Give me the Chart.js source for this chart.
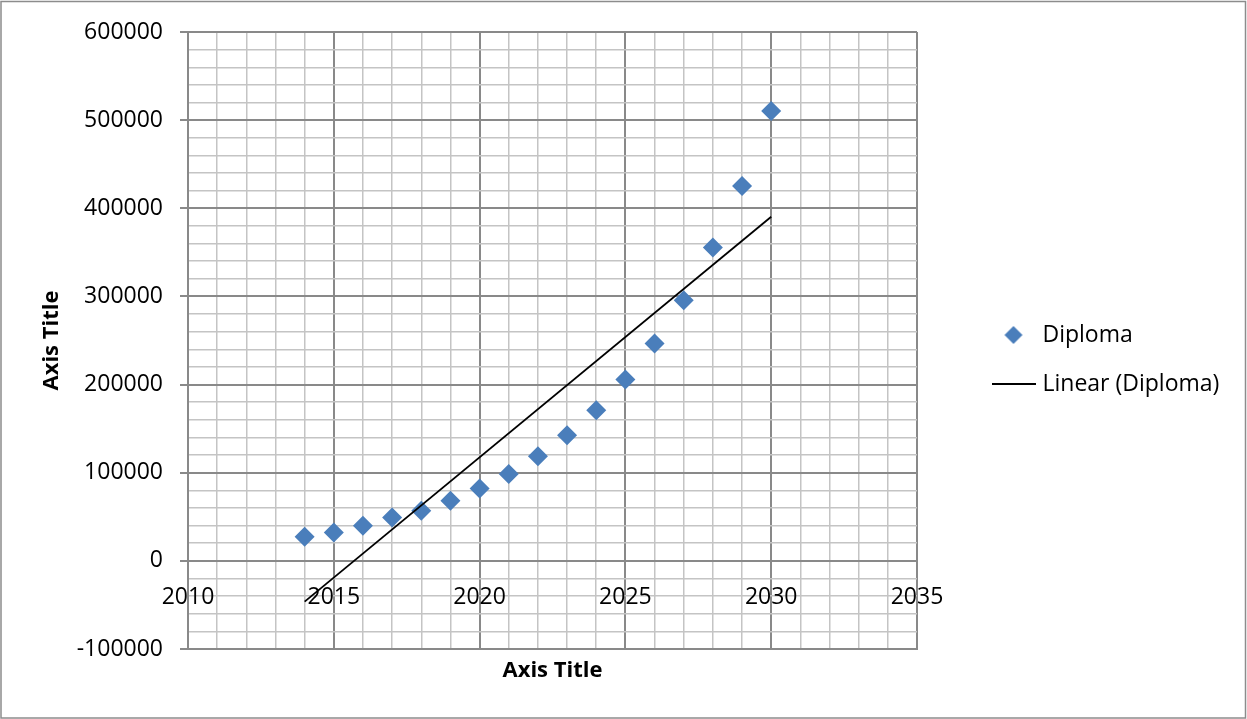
<!DOCTYPE html>
<html>
<head>
<meta charset="utf-8">
<title>Diploma</title>
<script src="https://cdn.jsdelivr.net/npm/chart.js@4.4.1/dist/chart.umd.min.js"></script>
<style>
  html, body { margin: 0; padding: 0; background: #ffffff; }
  #wrap { width: 1247px; height: 719px; }
</style>
</head>
<body>
<div id="wrap"><canvas id="chart" width="1247" height="719"></canvas></div>
<script>
// Diploma counts per year
const years = [2014, 2015, 2016, 2017, 2018, 2019, 2020, 2021, 2022, 2023, 2024, 2025, 2026, 2027, 2028, 2029, 2030];
const diplomas = [27300, 32300, 39800, 49300, 56800, 68100, 82200, 98400, 118800, 142600, 171000, 205800, 246600, 295700, 355400, 425300, 510300];

// Axis ranges and tick spacing
const xRange = [2010, 2035];
const xLabelStep = 5;
const yRange = [-100000, 600000];
const yLabelStep = 100000;
const yGridStep = 20000;

const seriesName = 'Diploma';
const trendName = 'Linear (Diploma)';
const axisTitleX = 'Axis Title';
const axisTitleY = 'Axis Title';

// Least-squares linear trend through the series
function linearFit(xs, ys) {
  const n = xs.length;
  const mx = xs.reduce((a, b) => a + b, 0) / n;
  const my = ys.reduce((a, b) => a + b, 0) / n;
  let sxy = 0, sxx = 0;
  for (let i = 0; i < n; i++) {
    sxy += (xs[i] - mx) * (ys[i] - my);
    sxx += (xs[i] - mx) * (xs[i] - mx);
  }
  const slope = sxy / sxx;
  return x => my + slope * (x - mx);
}
const trend = linearFit(years, diplomas);
const trendPoints = [years[0], years[years.length - 1]].map(x => ({ x, y: trend(x) }));
const points = years.map((x, i) => ({ x, y: diplomas[i] }));

const FONT = "'Open Sans', 'Liberation Sans', Arial, sans-serif";
const MAJOR = '#898989';
const MINOR = '#c4c4c4';
const BLUE = '#4A7EBB';

// Legend icons
function diamondIcon() {
  const c = document.createElement('canvas');
  c.width = 20; c.height = 20;
  const g = c.getContext('2d');
  g.fillStyle = BLUE;
  g.beginPath();
  g.moveTo(10, 1); g.lineTo(19, 10); g.lineTo(10, 19); g.lineTo(1, 10);
  g.closePath();
  g.fill();
  return c;
}
function lineIcon() {
  const c = document.createElement('canvas');
  c.width = 44; c.height = 4;
  const g = c.getContext('2d');
  g.fillStyle = '#000';
  g.fillRect(0, 1, 44, 2);
  return c;
}
const legendIcons = [diamondIcon(), lineIcon()];

const gridColor = ctx => (ctx.tick && ctx.tick.value % (ctx.scale.axis === 'x' ? xLabelStep : yLabelStep) === 0) ? MAJOR : MINOR;
const gridWidth = ctx => (ctx.tick && ctx.tick.value % (ctx.scale.axis === 'x' ? xLabelStep : yLabelStep) === 0) ? 2 : 1.5;

// Frame around the whole chart, plus legend placement to the right of the plot
const framePlugin = {
  id: 'frame',
  beforeDraw(chart) {
    const c = chart.ctx;
    c.save();
    c.fillStyle = '#ffffff';
    c.fillRect(0, 0, chart.width, chart.height);
    c.strokeStyle = '#8c8c8c';
    c.lineWidth = 1.5;
    c.strokeRect(1, 1.5, chart.width - 2.5, chart.height - 2.5);
    c.restore();
  },
  afterLayout(chart) {
    const lg = chart.legend;
    if (!lg) return;
    const w = lg.width;
    lg.left = 970; lg.right = 970 + w;
    lg.top = 0; lg.bottom = chart.height; lg.height = chart.height;
  }
};

new Chart(document.getElementById('chart'), {
  type: 'scatter',
  data: {
    datasets: [
      {
        label: seriesName,
        data: points,
        pointStyle: 'rectRot',
        pointRadius: 10,
        pointHoverRadius: 10,
        backgroundColor: BLUE,
        borderColor: BLUE,
        borderWidth: 0,
        showLine: false,
        order: 1
      },
      {
        label: trendName,
        type: 'line',
        data: trendPoints,
        borderColor: '#000000',
        borderWidth: 1.8,
        pointRadius: 0,
        fill: false,
        showLine: true,
        order: 0
      }
    ]
  },
  options: {
    responsive: false,
    animation: false,
    devicePixelRatio: 1,
    layout: { padding: { left: 0, top: 32, right: 330, bottom: 0 } },
    plugins: {
      tooltip: { enabled: false },
      legend: {
        position: 'chartArea',
        labels: {
          usePointStyle: true,
          pointStyleWidth: 35,
          padding: 26,
          color: '#000000',
          font: { family: FONT, size: 23 },
          generateLabels(chart) {
            const items = Chart.defaults.plugins.legend.labels.generateLabels(chart);
            items.sort((a, b) => a.datasetIndex - b.datasetIndex);
            items.forEach(it => { it.pointStyle = legendIcons[it.datasetIndex]; });
            return items;
          }
        }
      }
    },
    scales: {
      x: {
        type: 'linear',
        position: 'bottom',
        min: xRange[0],
        max: xRange[1],
        ticks: { stepSize: 1, display: false, autoSkip: false },
        grid: { color: gridColor, lineWidth: gridWidth, drawTicks: false },
        border: { display: true, color: MAJOR, width: 2 },
        title: {
          display: true,
          text: axisTitleX,
          color: '#000000',
          font: { family: FONT, size: 22, weight: 'bold' },
          padding: { top: 0, bottom: 35 }
        },
        afterFit(scale) { scale.height = 70; }
      },
      x0: {
        type: 'linear',
        axis: 'x',
        position: { y: 0 },
        min: xRange[0],
        max: xRange[1],
        ticks: {
          stepSize: xLabelStep,
          autoSkip: false,
          maxRotation: 0,
          padding: 23,
          color: '#000000',
          font: { family: FONT, size: 23 },
          callback: v => String(v)
        },
        grid: { display: false, drawTicks: false },
        border: { display: false },
        afterFit(scale) { scale.height = 0; }
      },
      y: {
        type: 'linear',
        position: 'left',
        min: yRange[0],
        max: yRange[1],
        ticks: {
          stepSize: yGridStep,
          autoSkip: false,
          padding: 17,
          color: '#000000',
          font: { family: FONT, size: 23 },
          callback: v => (v % yLabelStep === 0 ? String(v) : '')
        },
        grid: {
          color: gridColor,
          lineWidth: gridWidth,
          drawTicks: true,
          tickLength: 8,
          tickColor: ctx => (ctx.tick && ctx.tick.value % yLabelStep === 0) ? MAJOR : 'rgba(0,0,0,0)',
          tickWidth: 2
        },
        border: { display: true, color: MAJOR, width: 2 },
        title: {
          display: true,
          text: axisTitleY,
          color: '#000000',
          font: { family: FONT, size: 22, weight: 'bold' },
          padding: { top: 39, bottom: 0 }
        },
        afterFit(scale) { scale.width = 188; }
      }
    }
  },
  plugins: [framePlugin]
});
</script>
</body>
</html>
